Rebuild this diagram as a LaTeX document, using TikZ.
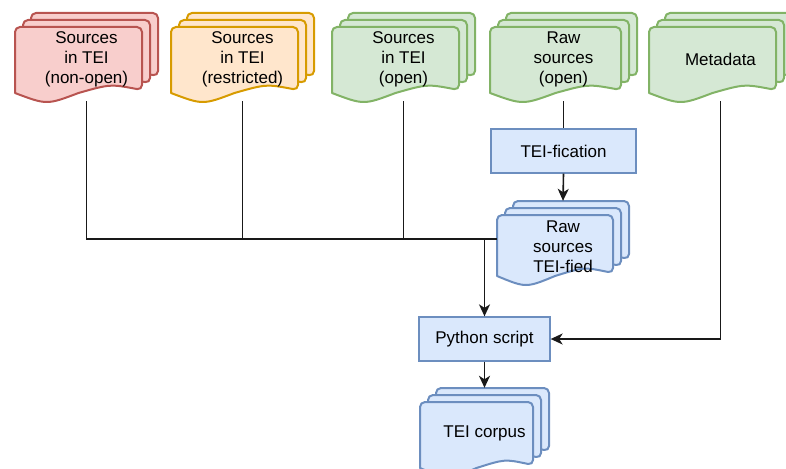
\documentclass[tikz,border=0pt]{standalone}
\usepackage{fontspec}
\setmainfont{Liberation Sans}
\usetikzlibrary{arrows.meta}
\definecolor{redF}{HTML}{F8CECC}\definecolor{redD}{HTML}{B85450}
\definecolor{orgF}{HTML}{FFE6CC}\definecolor{orgD}{HTML}{D79B00}
\definecolor{grnF}{HTML}{D5E8D4}\definecolor{grnD}{HTML}{82B366}
\definecolor{bluF}{HTML}{DAE8FC}\definecolor{bluD}{HTML}{6C8EBF}
% one document sheet: left, top, width, height of left edge, style
\newcommand\onedoc[5]{%
  \filldraw[#5] (#1+#3,#2+#4-3) .. controls (#1+0.75*#3,#2+#4-9) .. (#1+0.5*#3,#2+#4)
    .. controls (#1+0.25*#3,#2+#4+12) .. (#1,#2+#4)
    [rounded corners=5pt] -- (#1,#2) -- (#1+#3,#2) -- cycle;}
% stack of three sheets
\newcommand\mdoc[6]{%
  \foreach \k in {2,1,0}{\onedoc{#1+8*\k}{#2-7*\k}{#3}{#4}{fill=#5,draw=#6,docline}}}
\begin{document}
\begin{tikzpicture}[x=1pt,y=-1pt,
  docline/.style={line width=2pt,line join=round},
  txt/.style={align=center,inner sep=0pt,font=\fontsize{17}{20}\selectfont},
  procbox/.style={draw=bluD,fill=bluF,line width=1.3pt,inner sep=0pt,
    font=\fontsize{17}{20}\selectfont},
  edge/.style={line width=1.6pt,draw=black!90},
  arr/.style={edge,-{Stealth[length=12pt,width=11pt,inset=3.5pt]}}]
\useasboundingbox (0,0) rectangle (786,468);
\clip (0,0) rectangle (786,468);
% document stacks
\mdoc{15}{27}{127}{66}{redF}{redD}
\mdoc{171}{27}{127}{66}{orgF}{orgD}
\mdoc{332}{27}{127}{66}{grnF}{grnD}
\mdoc{490}{27}{131}{66}{grnF}{grnD}
\mdoc{649}{27}{127}{66}{grnF}{grnD}
\mdoc{497}{215}{116}{61}{bluF}{bluD}
\mdoc{420}{402}{113}{66}{bluF}{bluD}
% nodes
\node[txt,minimum width=143pt,minimum height=83pt] (nsrc) at (86.5,59.5) {Sources\\in TEI\\(non-open)};
\node[txt,minimum width=143pt,minimum height=83pt] (rsrc) at (242.5,59.5) {Sources\\in TEI\\(restricted)};
\node[txt,minimum width=143pt,minimum height=83pt] (osrc) at (403.5,59.5) {Sources\\in TEI\\(open)};
\node[txt,minimum width=147pt,minimum height=83pt] (raw) at (563.5,59.5) {Raw\\sources\\(open)};
\node[txt,minimum width=143pt,minimum height=83pt] (meta) at (720.5,59.5) {Metadata};
\node[procbox,minimum width=145pt,minimum height=44pt] (teific) at (563.5,151) {TEI-fication};
\node[txt,minimum width=132pt,minimum height=92pt] (teified) at (563,247) {Raw\\sources\\TEI-fied};
\node[procbox,minimum width=131pt,minimum height=44pt] (python) at (484.5,339) {Python script};
\node[txt,minimum width=129pt,minimum height=90pt] (corpus) at (484.5,433) {TEI corpus};
% connectors
\coordinate (j) at (484.5,239);
\draw[edge] (nsrc.south) |- (j);
\draw[edge] (rsrc.south) |- (j);
\draw[edge] (osrc.south) |- (j);
\draw[edge] (teified.west |- j) -- (j);
\draw[arr] (j) -- (python.north);
\draw[edge] (raw.south) -- (teific.north);
\draw[arr] (teific.south) -- (teified.north);
\draw[arr] (meta.south) |- (python.east);
\draw[arr] (python.south) -- (corpus.north);
\end{tikzpicture}
\end{document}
